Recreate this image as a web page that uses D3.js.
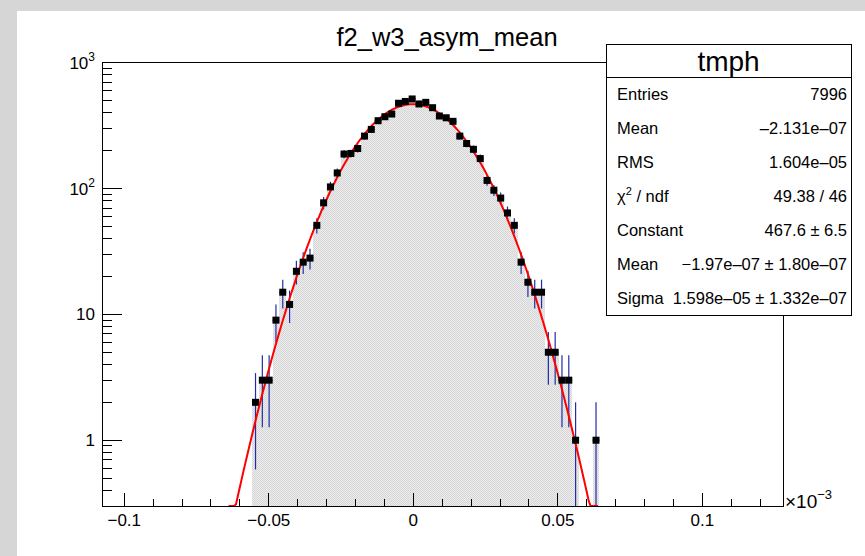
<!DOCTYPE html>
<html>
<head>
<meta charset="utf-8">
<script src="https://cdn.jsdelivr.net/npm/d3@7"></script>
<style>
  body { margin: 0; background: #d6d6d6; overflow: hidden; }
  text { font-family: "Liberation Sans", Arial, Helvetica, sans-serif; fill: #000; }
</style>
</head>
<body>
<svg id="chart" width="865" height="556"></svg>
<script>
// histogram: 100 bins, x in units of 1e-3
var binLow = -0.1076, binHigh = 0.1280, nBins = 100;
var firstBin = 22;
var counts = [2, 3, 3, 9, 15, 12, 22, 26, 28,
  51, 77, 103, 133, 188, 190, 208, 261, 295, 346, 372, 391, 476, 492, 515,
  470, 484, 439, 377, 365, 342, 261, 228, 205, 173, 116, 97, 84, 64, 51,
  26, 18, 15, 15, 5, 5, 3, 3, 1, 0, 0, 1];

// gaussian fit (from the stats box)
var fitParams = [467.6, -0.000197, 0.01598];
var fitRange = [-0.0639, 0.0639];

var xTicks = [-0.1, -0.05, 0, 0.05, 0.1];
var xTickLabels = ["\u22120.1", "\u22120.05", "0", "0.05", "0.1"];
var yTicks = [1, 10, 100, 1000];

var statLabels = ["Entries", "Mean", "RMS", "chi2", "Constant", "Mean", "Sigma"];
var statValues = ["7996", "\u20132.131e\u201307", "1.604e\u201305", "49.38 / 46",
  "467.6 \u00b1 6.5", "\u22121.97e\u201307 \u00b1 1.80e\u201307", "1.598e\u201305 \u00b1 1.332e\u201307"];

var svg = d3.select("#chart");
var frame = {left: 102.3, right: 783.3, top: 62.7, bottom: 506};

// canvas
svg.append("rect").attr("x", 17).attr("y", 11).attr("width", 865).attr("height", 556).attr("fill", "#fff");

var x = d3.scaleLinear().domain([binLow, binHigh]).range([frame.left, frame.right]);
var y = d3.scaleLog().domain([0.3, 1000]).range([frame.bottom, frame.top]);
var bw = (binHigh - binLow) / nBins;

var data = counts.map(function(c, i) {
  var b = firstBin + i;
  return {lo: binLow + b * bw, hi: binLow + (b + 1) * bw, mid: binLow + (b + 0.5) * bw, n: c};
});

var defs = svg.append("defs");
defs.append("clipPath").attr("id", "frameclip")
  .append("rect").attr("x", frame.left).attr("y", frame.top)
  .attr("width", frame.right - frame.left).attr("height", frame.bottom - frame.top);
var pat = defs.append("pattern").attr("id", "dots").attr("patternUnits", "userSpaceOnUse")
  .attr("width", 2).attr("height", 2);
pat.append("rect").attr("width", 2).attr("height", 2).attr("fill", "#ececec");
pat.append("rect").attr("width", 1).attr("height", 1).attr("fill", "#d6d6d6");
pat.append("rect").attr("x", 1).attr("y", 1).attr("width", 1).attr("height", 1).attr("fill", "#d6d6d6");

var g = svg.append("g").attr("clip-path", "url(#frameclip)");

// filled bins
g.selectAll("rect.bin")
  .data(data.filter(function(d) { return d.n > 0; }))
  .enter().append("rect")
    .attr("class", "bin")
    .attr("x", function(d) { return x(d.lo); })
    .attr("width", function(d) { return x(d.hi) - x(d.lo); })
    .attr("y", function(d) { return y(d.n); })
    .attr("height", function(d) { return frame.bottom - y(d.n); })
    .attr("fill", "url(#dots)")
    .attr("shape-rendering", "crispEdges");

// error bars
var pts = data.filter(function(d) { return d.n > 0; });
g.selectAll("line.ev")
  .data(pts)
  .enter().append("line")
    .attr("class", "ev")
    .attr("x1", function(d) { return x(d.mid); })
    .attr("x2", function(d) { return x(d.mid); })
    .attr("y1", function(d) { return y(d.n + Math.sqrt(d.n)); })
    .attr("y2", function(d) { var lo = d.n - Math.sqrt(d.n); return lo > 0.3 ? y(lo) : frame.bottom; })
    .attr("stroke", "#1f2ea8")
    .attr("stroke-width", 1.2);

g.selectAll("line.eh")
  .data(pts)
  .enter().append("line")
    .attr("class", "eh")
    .attr("x1", function(d) { return x(d.lo); })
    .attr("x2", function(d) { return x(d.hi); })
    .attr("y1", function(d) { return y(d.n); })
    .attr("y2", function(d) { return y(d.n); })
    .attr("stroke", "#1f2ea8")
    .attr("stroke-width", 1.2);

// fit curve
var fx = d3.range(0, 201).map(function(i) { return fitRange[0] + i * (fitRange[1] - fitRange[0]) / 200; });
var gaus = function(v) {
  var t = (v - fitParams[1]) / fitParams[2];
  return Math.max(fitParams[0] * Math.exp(-0.5 * t * t), 0.3);
};
var line = d3.line()
  .x(function(d) { return x(d); })
  .y(function(d) { return y(gaus(d)); });

g.append("path")
  .datum(fx)
  .attr("fill", "none")
  .attr("stroke", "#ff0000")
  .attr("stroke-width", 2)
  .attr("stroke-linejoin", "round")
  .attr("d", line);

// markers
g.selectAll("rect.mk")
  .data(pts)
  .enter().append("rect")
    .attr("class", "mk")
    .attr("x", function(d) { return x(d.mid) - 3.5; })
    .attr("y", function(d) { return y(d.n) - 3.5; })
    .attr("width", 7).attr("height", 7)
    .attr("fill", "#000");

// frame
svg.append("rect")
  .attr("x", frame.left).attr("y", frame.top)
  .attr("width", frame.right - frame.left).attr("height", frame.bottom - frame.top)
  .attr("fill", "none").attr("stroke", "#000").attr("stroke-width", 1)
  .attr("shape-rendering", "crispEdges");

// x axis ticks (inside)
var xMinor = d3.range(-10, 13).map(function(i) { return i / 100; });
svg.append("g").selectAll("line")
  .data(xMinor)
  .enter().append("line")
    .attr("x1", function(d) { return x(d); })
    .attr("x2", function(d) { return x(d); })
    .attr("y1", frame.bottom)
    .attr("y2", function(d) { return Math.abs(d * 20 - Math.round(d * 20)) < 1e-6 ? frame.bottom - 13 : frame.bottom - 7; })
    .attr("stroke", "#000").attr("stroke-width", 1).attr("shape-rendering", "crispEdges");

svg.append("g").selectAll("text")
  .data(xTicks)
  .enter().append("text")
    .attr("x", function(d) { return x(d); })
    .attr("y", 526)
    .attr("text-anchor", "middle")
    .style("font-size", "17px")
    .text(function(d, i) { return xTickLabels[i]; });

var xm = svg.append("text").attr("x", 785).attr("y", 508).style("font-size", "19px");
xm.append("tspan").text("\u00d710");
xm.append("tspan").attr("dy", -9).style("font-size", "13px").text("\u22123");

// y axis ticks (inside)
var yMinor = [];
[0.1, 1, 10, 100].forEach(function(dec) {
  d3.range(1, 10).forEach(function(k) {
    var v = k * dec;
    if (v >= 0.3 && v <= 1000) yMinor.push(v);
  });
});
yMinor.push(1000);
svg.append("g").selectAll("line")
  .data(yMinor)
  .enter().append("line")
    .attr("x1", frame.left)
    .attr("x2", function(d) { return yTicks.indexOf(d) >= 0 ? frame.left + 20 : frame.left + 10; })
    .attr("y1", function(d) { return y(d); })
    .attr("y2", function(d) { return y(d); })
    .attr("stroke", "#000").attr("stroke-width", 1).attr("shape-rendering", "crispEdges");

var yl = svg.append("g").selectAll("text")
  .data(yTicks)
  .enter().append("text")
    .attr("x", 95)
    .attr("y", function(d) { return y(d) + 6; })
    .attr("text-anchor", "end")
    .style("font-size", "17px");
yl.each(function(d) {
  var t = d3.select(this);
  if (d >= 100) {
    t.append("tspan").text("10");
    t.append("tspan").attr("dy", -8).style("font-size", "12px").text(String(Math.round(Math.log10(d))));
  } else {
    t.text(String(d));
  }
});

// title
svg.append("text")
  .attr("x", 447).attr("y", 46)
  .attr("text-anchor", "middle")
  .style("font-size", "25.5px")
  .text("f2_w3_asym_mean");

// stats box
var box = {left: 606, right: 851, top: 44, bottom: 315};
var rowH = (box.bottom - box.top) / 8;
var sb = svg.append("g");
sb.append("rect")
  .attr("x", box.left).attr("y", box.top)
  .attr("width", box.right - box.left).attr("height", box.bottom - box.top)
  .attr("fill", "#fff").attr("stroke", "#000").attr("shape-rendering", "crispEdges");
sb.append("line")
  .attr("x1", box.left).attr("x2", box.right)
  .attr("y1", box.top + rowH).attr("y2", box.top + rowH)
  .attr("stroke", "#000").attr("shape-rendering", "crispEdges");
sb.append("text")
  .attr("x", (box.left + box.right) / 2).attr("y", box.top + rowH / 2 + 10)
  .attr("text-anchor", "middle")
  .style("font-size", "28px")
  .text("tmph");

statLabels.forEach(function(lab, i) {
  var cy = box.top + rowH * (i + 1.5) + 5.5;
  var t = sb.append("text").attr("x", box.left + 11).attr("y", cy).style("font-size", "16.5px");
  if (lab === "chi2") {
    t.append("tspan").text("\u03c7");
    t.append("tspan").attr("dy", -7).style("font-size", "11px").text("2");
    t.append("tspan").attr("dy", 7).text(" / ndf");
  } else {
    t.text(lab);
  }
  sb.append("text").attr("x", box.right - 4).attr("y", cy)
    .attr("text-anchor", "end").style("font-size", "16.5px")
    .text(statValues[i]);
});
</script>
</body>
</html>
